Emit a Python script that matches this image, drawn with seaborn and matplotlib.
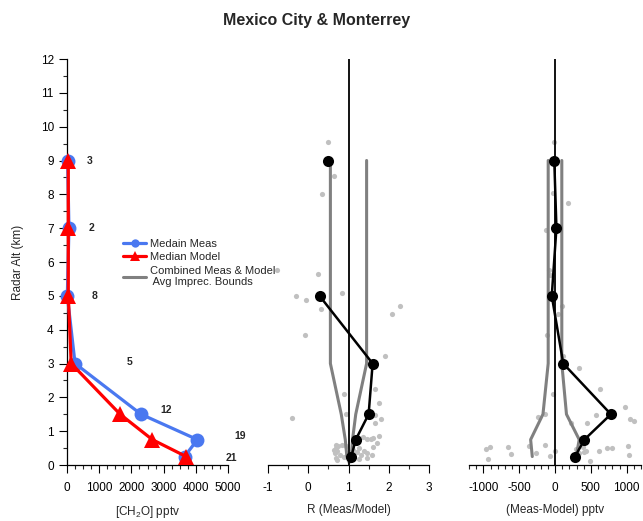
import numpy as np
import pandas as pd
import matplotlib
matplotlib.use("Agg")
import matplotlib.pyplot as plt
from matplotlib.lines import Line2D
from matplotlib.ticker import MultipleLocator
import seaborn as sns

# ---- median profiles by altitude bin ----
alt = [9, 7, 5, 3, 1.5, 0.75, 0.25]
meas_med = [20, 60, 10, 250, 2300, 4050, 3650]
model_med = [40, 40, 40, 130, 1650, 2650, 3700]
n_points = [3, 2, 8, 5, 12, 19, 21]

ratio_med = [0.50, np.nan, 0.28, 1.60, 1.50, 1.18, 1.07]
ratio_lo = [0.55, 0.55, 0.55, 0.55, 0.82, 0.92, 0.96]
ratio_hi = [1.45, 1.45, 1.45, 1.45, 1.18, 1.10, 1.07]

diff_med = [-10, 20, -45, 115, 780, 410, 280]
diff_lo = [-95, -95, -95, -95, -168, -340, -317]
diff_hi = [95, 95, 95, 95, 160, 338, 295]

# ---- individual samples ----
ratio_pts_alt = [9.54, 8.55, 8.01, 5.77, 5.65, 5.0, 4.88, 5.07, 4.62, 4.69, 4.45,
                 3.84, 3.23, 2.24, 2.11, 1.82, 1.40, 1.52, 1.49, 1.35, 1.23,
                 0.87, 0.77, 0.84, 0.78, 0.80, 0.64,
                 0.59, 0.55, 0.50, 0.44, 0.40, 0.35, 0.30, 0.20, 0.15, 0.49,
                 0.40, 0.35, 0.30, 0.38, 0.45, 0.30, 0.22, 0.18, 0.55, 0.25,
                 0.52, 0.33, 0.20, 0.60, 0.12]
ratio_pts_val = [0.50, 0.63, 0.35, -0.77, 0.25, -0.30, -0.06, 0.83, 0.31, 2.29, 2.08,
                 -0.08, 1.90, 1.67, 0.88, 1.75, -0.41, 0.94, 1.66, 1.80, 1.66,
                 1.75, 1.46, 1.36, 1.55, 1.62, 1.71,
                 0.85, 0.75, 0.70, 0.64, 0.72, 0.66, 0.80, 0.68, 0.72, 1.26,
                 1.38, 1.47, 1.59, 1.20, 1.10, 1.30, 1.12, 1.25, 0.95, 0.90,
                 1.60, 1.05, 1.45, 0.68, 1.02]

diff_pts_alt = [9.56, 8.03, 7.74, 6.95, 5.77, 5.63, 5.05, 4.70, 4.47, 3.85, 3.22,
                2.88, 2.24, 2.11, 1.47, 1.71, 1.41, 1.52, 1.36, 1.30, 1.23, 1.23,
                0.54, 0.46, 0.52, 0.32, 0.17, 0.57, 0.34, 0.59, 0.27, 0.42,
                0.46, 0.52, 0.42, 0.42, 0.51, 0.51, 0.56, 0.30, 0.13, 0.35, 0.38]
diff_pts_val = [-14, -28, 182, -130, -89, -75, -50, 103, 47, -107, 112,
                336, 625, -23, 578, 974, -242, -140, 1049, 1105, 443, 219,
                -905, -960, -662, -611, -933, -368, -270, -145, -75, 5,
                290, 390, 430, 615, 732, 802, 1021, 1035, 485, 340, 400]

# count label anchor points (x in pptv, y in km)
count_label_x = [714, 776, 870, 1957, 3075, 5370, 5090]
count_label_y = [9.0, 7.0, 5.0, 3.05, 1.63, 0.86, 0.2]

sns.set_style("ticks")
plt.rcParams["font.family"] = ["Liberation Sans", "DejaVu Sans"]
plt.rcParams["mathtext.fontset"] = "custom"
plt.rcParams["mathtext.rm"] = "Liberation Sans"
plt.rcParams["mathtext.it"] = "Liberation Sans:italic"
plt.rcParams["axes.unicode_minus"] = False

W, H = 643, 521
fig = plt.figure(figsize=(W / 100, H / 100), dpi=100)


def px_axes(left, right, top, bottom):
    return fig.add_axes([left / W, 1 - bottom / H, (right - left) / W, (bottom - top) / H])


ax1 = px_axes(67, 228, 59, 465)
ax2 = px_axes(268, 429, 59, 465)
ax3 = px_axes(469, 641, 59, 465)

BLUE = "#4a78f0"
RED = "#ff0000"
BOUND = "#808080"
DOT = "#c0c0c0"

# ---- panel 1: concentration profiles ----
prof = pd.DataFrame({"alt": alt, "meas": meas_med, "model": model_med})
sns.lineplot(data=prof, x="meas", y="alt", sort=False, estimator=None, ax=ax1,
             color=BLUE, lw=2.3, marker="o", markersize=10, markeredgewidth=0,
             clip_on=False, zorder=3)
sns.lineplot(data=prof, x="model", y="alt", sort=False, estimator=None, ax=ax1,
             color=RED, lw=2.3, marker="^", markersize=11, markeredgewidth=0,
             clip_on=False, zorder=4)
for x, y, n in zip(count_label_x, count_label_y, n_points):
    ax1.text(x, y, str(n), fontsize=7.5, fontweight="bold", ha="center", va="center",
             clip_on=False)
ax1.set_xlim(0, 5000)
ax1.xaxis.set_major_locator(MultipleLocator(1000))
ax1.xaxis.set_minor_locator(MultipleLocator(250))
ax1.set_xlabel("[CH$_2$O] pptv")
ax1.set_ylabel("Radar Alt (km)")

# ---- panel 2: ratio ----
rat = pd.DataFrame({"alt": alt, "med": ratio_med, "lo": ratio_lo, "hi": ratio_hi})
rat["seg"] = np.cumsum(rat["med"].isna())
rpts = pd.DataFrame({"alt": ratio_pts_alt, "val": ratio_pts_val})
sns.scatterplot(data=rpts, x="val", y="alt", ax=ax2, color=DOT, s=14, linewidth=0, zorder=1)
for col in ["lo", "hi"]:
    sns.lineplot(data=rat, x=col, y="alt", sort=False, estimator=None, ax=ax2,
                 color=BOUND, lw=2.2, zorder=2)
ax2.axvline(1, color="black", lw=1.3, zorder=3)
sns.lineplot(data=rat.dropna(subset=["med"]), x="med", y="alt", units="seg",
             sort=False, estimator=None, ax=ax2, color="black", lw=1.8,
             marker="o", markersize=8, markeredgewidth=0, zorder=4)
ax2.set_xlim(-1, 3)
ax2.xaxis.set_major_locator(MultipleLocator(1))
ax2.xaxis.set_minor_locator(MultipleLocator(0.5))
ax2.set_xlabel("R (Meas/Model)")

# ---- panel 3: difference ----
dif = pd.DataFrame({"alt": alt, "med": diff_med, "lo": diff_lo, "hi": diff_hi})
dpts = pd.DataFrame({"alt": diff_pts_alt, "val": diff_pts_val})
sns.scatterplot(data=dpts, x="val", y="alt", ax=ax3, color=DOT, s=14, linewidth=0, zorder=1)
for col in ["lo", "hi"]:
    sns.lineplot(data=dif, x=col, y="alt", sort=False, estimator=None, ax=ax3,
                 color=BOUND, lw=2.2, zorder=2)
ax3.axvline(0, color="black", lw=1.3, zorder=3)
sns.lineplot(data=dif, x="med", y="alt", sort=False, estimator=None, ax=ax3,
             color="black", lw=1.8, marker="o", markersize=8, markeredgewidth=0, zorder=4)
ax3.set_xlim(-1200, 1200)
ax3.xaxis.set_major_locator(MultipleLocator(500))
ax3.xaxis.set_minor_locator(MultipleLocator(100))
ax3.set_xlabel("(Meas-Model) pptv")

# ---- shared styling ----
for ax in (ax1, ax2, ax3):
    ax.set_ylim(0, 12)
    ax.set_facecolor("none")
    ax.tick_params(axis="both", which="major", direction="out", length=5.5, width=0.8,
                   labelsize=8.5, colors="black")
    ax.tick_params(axis="both", which="minor", direction="out", length=3, width=0.8)
    ax.tick_params(axis="x", which="major", pad=7)
    ax.xaxis.label.set_size(8.5)
    ax.xaxis.labelpad = 7
    for s in ax.spines.values():
        s.set_linewidth(0.9)
        s.set_color("black")

ax1.yaxis.set_major_locator(MultipleLocator(1))
ax1.yaxis.set_minor_locator(MultipleLocator(0.5))
ax1.tick_params(axis="y", which="major", pad=4)
ax1.yaxis.label.set_size(8.5)
ax1.yaxis.labelpad = 12
sns.despine(ax=ax1)
for ax in (ax2, ax3):
    sns.despine(ax=ax, left=True)
    ax.set_ylabel("")
    ax.tick_params(axis="y", which="both", left=False, labelleft=False)

handles = [
    Line2D([], [], color=BLUE, lw=2.3, marker="o", markersize=6, markeredgewidth=0),
    Line2D([], [], color=RED, lw=2.3, marker="^", markersize=6.5, markeredgewidth=0),
    Line2D([], [], color=BOUND, lw=2.2),
]
labels = ["Medain Meas", "Median Model", "Combined Meas & Model\n Avg Imprec. Bounds"]
fig.legend(handles, labels, loc="upper left", bbox_to_anchor=(123 / W, 1 - 239 / H),
           frameon=False, fontsize=8, handlelength=2.1, handletextpad=0.35,
           labelspacing=0.3, borderpad=0, borderaxespad=0)

fig.text(317 / W, 1 - 20 / H, "Mexico City & Monterrey", ha="center", va="center",
         fontsize=11.5, fontweight="bold")

fig.savefig("out.png", dpi=100)
